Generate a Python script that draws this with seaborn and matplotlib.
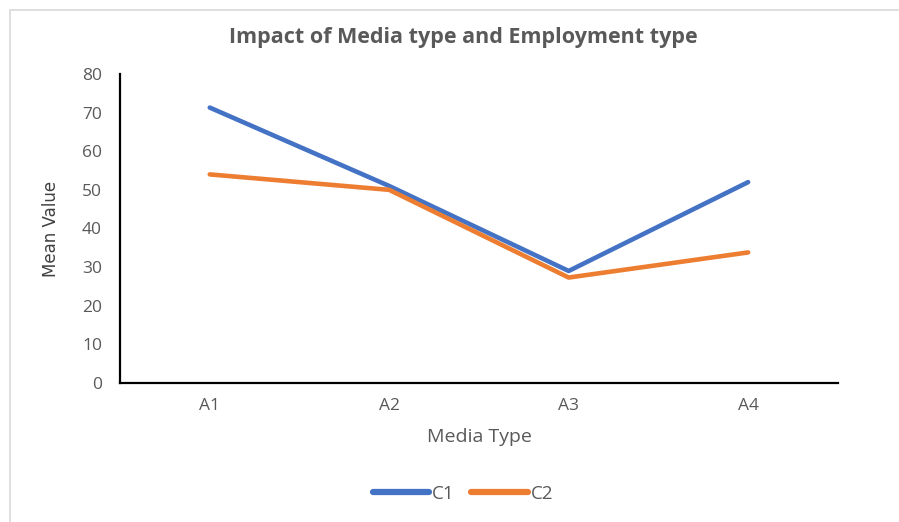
import matplotlib
matplotlib.use("Agg")
import matplotlib.pyplot as plt
import pandas as pd
import seaborn as sns
from matplotlib.patches import Rectangle

categories = ["A1", "A2", "A3", "A4"]
c1_values = [71.3, 51.0, 29.0, 52.0]
c2_values = [54.0, 50.0, 27.3, 33.8]
series_names = ["C1", "C2"]
y_ticks = [0, 10, 20, 30, 40, 50, 60, 70, 80]

df = pd.DataFrame({
    "Media Type": categories * 2,
    "Mean Value": c1_values + c2_values,
    "Group": [series_names[0]] * 4 + [series_names[1]] * 4,
})

sns.set_theme(style="white")
plt.rcParams["font.family"] = ["Open Sans", "DejaVu Sans"]

fig = plt.figure(figsize=(8.99, 5.22), dpi=100)
ax = fig.add_axes([0.1335, 0.2663, 0.7985, 0.5920])

palette = {"C1": "#4472C4", "C2": "#ED7D31"}
sns.lineplot(data=df, x="Media Type", y="Mean Value", hue="Group",
             palette=palette, linewidth=3.3, ax=ax, legend=True,
             sort=False)

ax.set_xlim(-0.5, 3.5)
ax.set_ylim(0, 80)
ax.set_yticks(y_ticks)
ax.set_yticklabels([str(v) for v in y_ticks])

grey = "#595959"
ax.tick_params(axis="both", length=0, colors=grey, labelsize=12.5)
ax.tick_params(axis="y", pad=13)
ax.tick_params(axis="x", pad=11)

for side in ["top", "right"]:
    ax.spines[side].set_visible(False)
for side in ["left", "bottom"]:
    ax.spines[side].set_color("black")
    ax.spines[side].set_linewidth(1.6)

ax.set_xlabel("Media Type", color=grey, fontsize=14, labelpad=10)
ax.set_ylabel("Mean Value", color="#404040", fontsize=12, labelpad=6,
              family=["DejaVu Sans"])
ax.yaxis.set_label_coords(-0.083, 0.5)

fig.suptitle("Impact of Media type and Employment type", x=0.515, y=0.948,
             fontsize=15.5, fontweight="bold", color=grey)

handles, labels = ax.get_legend_handles_labels()
leg = ax.legend(handles, labels, loc="center", bbox_to_anchor=(0.515, 0.054),
                bbox_transform=fig.transFigure, ncol=2, frameon=False,
                handlelength=3.0, handletextpad=0.15, columnspacing=0.9,
                fontsize=13.5)
for t in leg.get_texts():
    t.set_color(grey)
for line in leg.get_lines():
    line.set_linewidth(4.5)

fig.patches.append(Rectangle((0.011, -0.01), 1.0, 0.99, transform=fig.transFigure,
                             fill=False, edgecolor="#d9d9d9", linewidth=1.2))

fig.savefig("out.png", dpi=100)
